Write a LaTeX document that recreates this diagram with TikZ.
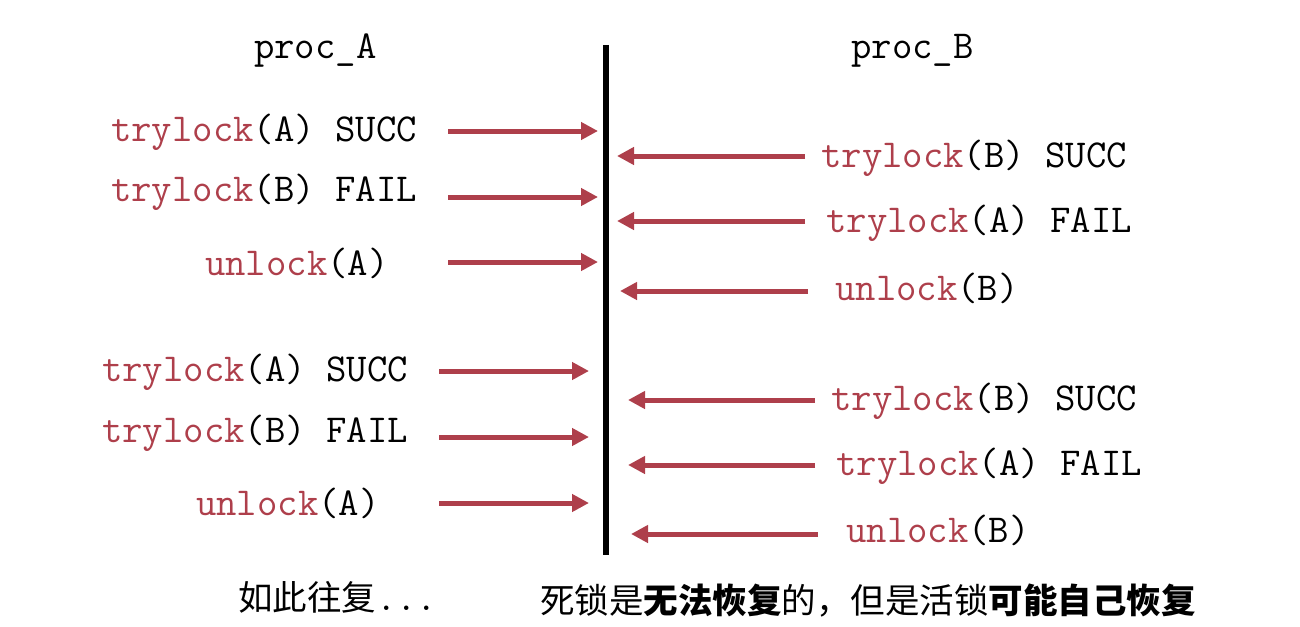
\documentclass[tikz,border=0pt]{standalone}
\usepackage{fontspec}
\newfontfamily\cjk{Noto Sans CJK SC}
\usetikzlibrary{arrows.meta}
\definecolor{lockred}{HTML}{AE3F4B}
\tikzset{
  code/.style={font=\ttfamily\fontsize{39.6}{44}\selectfont, inner sep=0pt, anchor=west},
  msg/.style={draw=lockred, line width=5pt, -{Triangle[length=17pt,width=17pt]}},
  note/.style={font=\cjk\fontsize{34.5}{40}\selectfont, inner sep=0pt, anchor=west},
}
\newcommand{\kw}[1]{\textcolor{lockred}{#1}}
\begin{document}
\begin{tikzpicture}[x=1pt,y=-1pt]
\useasboundingbox (0,0) rectangle (1300,626);
% timeline
\coordinate (lt) at (606,45);
\coordinate (lb) at (606,555);
\draw[line width=6pt] (lt) -- (lb);
% headers
\node[code] (pa) at (254,51) {proc\_A};
\node[code] (pb) at (851,51) {proc\_B};
% left column
\node[code] (a1) at (111,132) {\kw{trylock}(A) SUCC};
\node[code] (a2) at (111,192) {\kw{trylock}(B) FAIL};
\node[code] (a3) at (205,263) {\kw{unlock}(A)};
\node[code] (a4) at (102,372) {\kw{trylock}(A) SUCC};
\node[code] (a5) at (102,433) {\kw{trylock}(B) FAIL};
\node[code] (a6) at (196,503) {\kw{unlock}(A)};
% right column
\node[code] (b1) at (821,158) {\kw{trylock}(B) SUCC};
\node[code] (b2) at (826,223) {\kw{trylock}(A) FAIL};
\node[code] (b3) at (835,288) {\kw{unlock}(B)};
\node[code] (b4) at (831,401) {\kw{trylock}(B) SUCC};
\node[code] (b5) at (836,466) {\kw{trylock}(A) FAIL};
\node[code] (b6) at (846,530) {\kw{unlock}(B)};
% arrow endpoints
\coordinate (as1) at (448,131); \coordinate (ae1) at (598,131);
\coordinate (as2) at (448,197); \coordinate (ae2) at (598,197);
\coordinate (as3) at (448,262); \coordinate (ae3) at (598,262);
\coordinate (as4) at (439,371); \coordinate (ae4) at (589,371);
\coordinate (as5) at (439,437); \coordinate (ae5) at (589,437);
\coordinate (as6) at (439,503); \coordinate (ae6) at (589,503);
\coordinate (bs1) at (805,156); \coordinate (be1) at (617,156);
\coordinate (bs2) at (805,221); \coordinate (be2) at (617,221);
\coordinate (bs3) at (808,291); \coordinate (be3) at (620,291);
\coordinate (bs4) at (815,400); \coordinate (be4) at (628,400);
\coordinate (bs5) at (815,465); \coordinate (be5) at (628,465);
\coordinate (bs6) at (818,534); \coordinate (be6) at (631,534);
\foreach \i in {1,...,6} {
  \draw[msg] (as\i) -- (ae\i);
  \draw[msg] (bs\i) -- (be\i);
}
% bottom notes
\node[note] (n1) at (238,597) {如此往复{\ttfamily\fontsize{39.6}{44}\selectfont ...}};
\node[note] (n2) at (540,601) {死锁是{\bfseries 无法恢复}的，但是活锁{\bfseries 可能自己恢复}};
\end{tikzpicture}
\end{document}
